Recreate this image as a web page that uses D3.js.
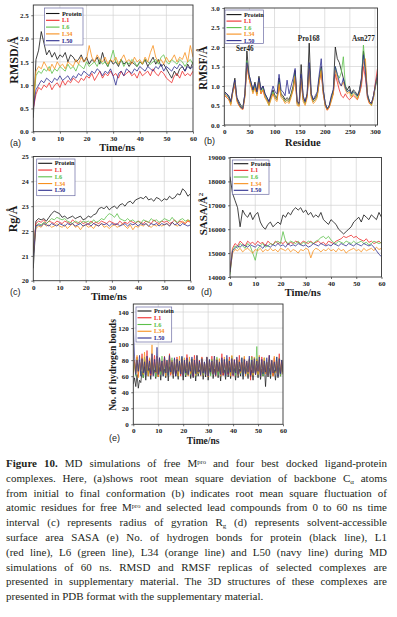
<!DOCTYPE html>
<html lang="en">
<head>
<meta charset="UTF-8">
<title>MD simulations</title>
<script src="https://d3js.org/d3.v7.min.js"></script>
<style>
  body { margin: 0; background: #fff; }
  svg { display: block; }
  .tick text { font-family: "Liberation Serif", serif; font-weight: bold; font-size: 7px; fill: #222; }
  .axttl { font-family: "Liberation Serif", serif; font-weight: bold; fill: #1a1a1a; }
  .plab { font-family: "Liberation Sans", Arial, sans-serif; font-size: 9px; fill: #222; }
  .leg text { font-family: "Liberation Serif", serif; font-weight: bold; font-size: 6.3px; }
  .note { font-family: "Liberation Serif", serif; font-weight: bold; font-size: 7.2px; fill: #222; }
  .caption { font-family: "Liberation Serif", serif; font-size: 11px; fill: #231f20; }
</style>
</head>
<body>
<script>
const seriesNames = ["Protein", "L1", "L6", "L34", "L50"];
const colors = ["#141414", "#ee2a2a", "#5cc04a", "#f7901e", "#2e2f8f"];

const timeNs = d3.range(0, 61);          // 0..60 ns, 1 ns step
const timeHb = d3.range(0, 60.5, 0.5);   // 0..60 ns, 0.5 ns step
const residues = d3.range(1, 306, 4);    // residue numbers 1..305

// (a) RMSD, Å
const rmsdProtein = [0.3,
  1.55,1.75,2.15,1.9,1.65,1.75,1.6,1.7,1.55,1.65,
  1.6,1.7,1.5,1.65,1.6,1.5,1.55,1.65,1.5,1.6,
  1.45,1.55,1.5,1.6,1.45,1.7,1.5,1.4,1.55,1.45,
  1.5,1.4,1.55,1.45,1.5,1.4,1.5,1.45,1.4,1.5,
  1.45,1.55,1.4,1.5,1.6,1.45,1.55,1.4,1.45,1.35,
  1.25,1.15,1.3,1.2,1.35,1.4,1.3,1.45,1.35,1.5];
const rmsdL1 = [0.5,
  0.8,0.95,0.9,1.0,0.95,1.05,0.9,1.0,1.05,0.95,
  1.1,1.0,1.1,1.05,1.15,1.1,1.05,1.15,1.1,1.2,
  1.15,1.25,1.1,1.2,1.3,1.15,1.25,1.2,1.3,1.2,
  1.25,1.15,1.3,1.2,1.25,1.3,1.2,1.25,1.15,1.3,
  1.2,1.25,1.3,1.2,1.35,1.25,1.2,1.3,1.25,1.15,
  1.1,1.05,1.2,1.25,1.15,1.3,1.2,1.25,1.2,1.3];
const rmsdL6 = [0.6,
  1.2,1.3,1.25,1.35,1.3,1.4,1.25,1.35,1.3,1.4,
  1.35,1.3,1.45,1.35,1.4,1.3,1.45,1.4,1.35,1.5,
  1.4,1.45,1.5,1.4,1.55,1.45,1.5,1.4,1.55,1.75,
  1.5,1.45,1.55,1.4,1.5,1.45,1.55,1.5,1.4,1.5,
  1.45,1.55,1.5,1.45,1.5,1.55,1.45,1.6,1.65,1.5,
  1.45,1.55,1.5,1.45,1.55,1.5,1.4,1.5,1.55,1.45];
const rmsdL34 = [0.6,
  1.3,1.4,1.35,1.5,1.4,1.3,1.45,1.35,1.5,1.4,
  1.45,1.35,1.5,1.45,1.4,1.55,1.45,1.6,1.5,1.55,
  1.85,1.6,1.5,1.65,1.55,1.5,1.6,1.45,1.55,1.5,
  1.6,1.45,1.55,1.65,1.5,1.55,1.45,1.6,1.5,1.55,
  1.45,1.6,1.5,1.7,1.85,1.6,1.5,1.55,1.45,1.6,
  1.5,1.55,1.65,1.5,1.6,1.55,1.7,1.5,1.85,1.6];
const rmsdL50 = [0.5,
  0.9,1.0,1.1,1.05,1.15,1.1,1.05,1.15,1.1,1.2,
  1.1,1.15,1.2,1.1,1.2,1.15,1.25,1.2,1.3,1.25,
  1.2,1.3,1.25,1.35,1.3,1.2,1.3,1.25,1.35,1.2,
  1.0,1.25,1.3,1.2,1.35,1.3,1.25,1.35,1.3,1.4,
  1.35,1.3,1.4,1.35,1.3,1.4,1.35,1.45,1.3,1.4,
  1.35,1.3,1.4,1.35,1.45,1.4,1.3,1.4,1.35,1.4];

// (b) RMSF, Å
const rmsfProtein = [
  0.85,0.8,0.75,0.6,0.9,1.2,0.7,0.6,0.5,0.45,
  0.8,1.9,1.3,1.1,0.9,1.1,0.85,1.25,0.9,1.0,
  0.8,0.7,0.6,0.75,0.9,0.75,0.7,1.2,0.8,0.75,
  0.65,0.7,0.65,0.8,1.0,1.4,0.6,0.55,1.55,0.7,
  0.6,0.8,2.1,0.8,0.65,0.7,0.8,1.2,1.5,0.9,
  0.55,0.4,0.5,0.7,0.9,2.0,1.7,1.6,1.4,1.2,
  1.0,0.9,1.0,0.8,0.9,0.85,0.75,0.9,1.2,1.9,
  1.5,0.8,0.6,0.55,0.75,1.0,1.2];
const rmsfL1 = [
  0.75,0.7,0.65,0.55,0.85,1.0,0.65,0.5,0.45,0.4,
  0.75,1.5,1.2,1.0,0.85,0.95,0.8,1.1,0.8,0.9,
  0.7,0.65,0.55,0.7,0.8,0.7,0.65,1.0,0.75,0.7,
  0.6,0.65,0.6,0.75,0.9,1.2,0.55,0.5,1.1,0.65,
  0.55,0.75,1.4,0.75,0.6,0.65,0.75,1.1,1.35,0.8,
  0.5,0.38,0.45,0.65,0.8,1.3,1.1,0.9,0.75,0.7,
  0.8,0.7,0.65,0.7,0.75,0.7,0.65,0.8,1.0,1.5,
  1.2,0.7,0.55,0.55,0.7,1.1,1.45];
const rmsfL6 = [
  0.8,0.75,0.7,0.55,0.85,1.1,0.65,0.55,0.45,0.45,
  0.75,1.65,1.25,1.05,0.85,1.0,0.8,1.15,0.85,0.95,
  0.75,0.65,0.5,0.7,0.85,0.7,0.65,1.1,0.75,0.7,
  0.6,0.65,0.6,0.75,0.95,1.3,0.55,0.5,1.2,0.65,
  0.55,0.75,1.5,0.75,0.6,0.65,0.75,1.15,1.45,0.85,
  0.5,0.42,0.48,0.65,0.85,1.5,1.3,1.2,1.35,1.75,
  1.0,0.85,0.9,0.75,0.85,0.8,0.7,0.85,1.1,2.05,
  1.4,0.75,0.6,0.5,0.7,1.0,1.25];
const rmsfL34 = [
  0.8,0.7,0.65,0.5,0.85,1.1,0.6,0.5,0.42,0.4,
  0.7,1.55,1.2,1.0,0.8,0.95,0.75,1.1,0.8,0.9,
  0.7,0.6,0.5,0.65,0.8,0.65,0.6,1.05,0.7,0.65,
  0.55,0.6,0.55,0.7,0.9,1.25,0.5,0.48,1.2,0.6,
  0.5,0.7,1.45,0.7,0.55,0.6,0.7,1.1,1.4,0.8,
  0.48,0.38,0.45,0.6,0.8,1.4,1.2,1.05,1.0,1.1,
  0.9,0.8,0.85,0.7,0.8,0.75,0.65,0.8,1.1,1.6,
  1.7,0.7,0.55,0.5,0.7,1.05,1.3];
const rmsfL50 = [
  0.8,0.8,0.7,0.6,0.9,1.15,0.7,0.55,0.45,0.42,
  0.8,1.6,1.3,1.1,0.9,1.05,0.85,1.2,0.9,1.0,
  0.8,0.7,0.6,0.8,1.0,0.85,0.8,1.3,0.9,0.85,
  0.75,1.15,0.8,1.0,1.2,1.45,0.6,0.55,1.3,0.75,
  0.6,0.8,1.6,0.8,0.65,0.75,0.85,1.3,1.7,0.9,
  0.55,0.42,0.5,0.75,0.9,1.5,1.3,1.1,1.0,1.2,
  0.95,0.85,0.9,0.8,0.85,0.8,0.75,0.85,1.15,1.8,
  1.35,0.75,0.6,0.55,0.75,1.05,1.3];

// (c) radius of gyration, Å
const rgProtein = [20.5,
  22.4,22.5,22.45,22.5,22.4,22.55,22.7,22.8,22.75,22.7,
  22.55,22.6,22.5,22.55,22.6,22.5,22.55,22.6,22.45,22.5,
  22.6,22.55,22.65,22.7,22.9,22.95,22.9,23.0,22.85,22.95,
  23.0,22.9,23.05,23.1,23.0,23.15,23.2,23.1,23.25,23.3,
  23.35,23.3,23.4,23.25,23.3,23.2,23.35,23.3,23.2,23.3,
  23.25,23.4,23.3,23.35,23.5,23.45,23.7,23.6,23.4,23.5];
const rgL1 = [21.3,
  22.3,22.4,22.35,22.45,22.3,22.4,22.35,22.3,22.4,22.35,
  22.3,22.4,22.35,22.3,22.45,22.35,22.3,22.4,22.3,22.35,
  22.25,22.4,22.3,22.35,22.3,22.4,22.35,22.3,22.4,22.35,
  22.3,22.25,22.4,22.3,22.35,22.3,22.4,22.35,22.3,22.4,
  22.35,22.3,22.4,22.35,22.3,22.45,22.35,22.3,22.4,22.35,
  22.4,22.3,22.35,22.45,22.3,22.4,22.35,22.3,22.4,22.35];
const rgL6 = [21.2,
  22.2,22.3,22.25,22.35,22.3,22.4,22.5,22.45,22.55,22.5,
  22.45,22.5,22.4,22.35,22.3,22.4,22.35,22.3,22.4,22.35,
  22.4,22.3,22.45,22.35,22.4,22.5,22.45,22.6,22.7,22.65,
  22.55,22.7,22.5,22.45,22.4,22.5,22.4,22.45,22.35,22.4,
  22.3,22.45,22.4,22.35,22.5,22.4,22.45,22.35,22.4,22.5,
  22.45,22.4,22.55,22.4,22.35,22.45,22.5,22.4,22.45,22.4];
const rgL34 = [21.1,
  22.1,22.2,22.15,22.3,22.2,22.25,22.15,22.2,22.3,22.2,
  22.15,22.25,22.1,22.2,22.3,22.15,22.2,22.05,22.2,22.25,
  22.15,22.2,22.1,22.25,22.2,22.3,22.15,22.2,22.1,22.2,
  22.25,22.15,22.2,22.3,22.2,22.1,22.25,22.05,22.2,22.15,
  22.25,22.2,22.3,22.2,22.15,22.25,22.2,22.3,22.2,22.25,
  22.3,22.2,22.35,22.25,22.2,22.3,22.4,22.3,22.45,22.35];
const rgL50 = [21.0,
  22.2,22.25,22.2,22.3,22.25,22.2,22.3,22.25,22.2,22.3,
  22.25,22.2,22.3,22.25,22.3,22.2,22.25,22.3,22.2,22.25,
  22.3,22.2,22.3,22.25,22.2,22.3,22.25,22.3,22.2,22.3,
  22.25,22.3,22.2,22.25,22.3,22.2,22.3,22.25,22.3,22.2,
  22.3,22.25,22.3,22.2,22.3,22.25,22.3,22.2,22.3,22.25,
  22.3,22.2,22.35,22.25,22.3,22.2,22.3,22.25,22.2,22.25];

// (d) SASA, Å²
const sasaProtein = [18200,
  17500,17200,16900,16100,16800,16600,16500,16700,16400,16600,
  16700,16300,16100,16000,16200,16300,16100,16200,16300,16200,
  16600,16500,16700,16600,16800,16900,16800,16900,16700,16800,
  16600,16700,16500,16600,16500,16700,16400,16300,16200,16400,
  16300,16200,16000,15900,15800,15900,16000,16100,16300,16400,
  16500,16300,16600,16500,16400,16600,16500,16400,16700,16500];
const sasaL1 = [14300,
  15200,15400,15300,15500,15400,15300,15500,15400,15450,15350,
  15500,15400,15450,15300,15500,15400,15350,15500,15400,15450,
  15400,15500,15350,15450,15400,15500,15450,15400,15500,15450,
  15400,15500,15400,15450,15500,15400,15450,15350,15500,15450,
  15400,15500,15550,15600,15700,15650,15700,15750,15650,15700,
  15600,15550,15500,15600,15450,15500,15400,15450,15500,15400];
const sasaL6 = [14100,
  15100,15300,15200,15400,15300,15200,15400,15300,15000,14700,
  15200,15300,15400,15250,15300,15400,15350,15450,15500,15400,
  15900,15500,15400,15500,15450,15400,15500,15350,15450,15400,
  15500,15450,15400,15500,15550,15650,15700,15600,15700,15550,
  15450,15400,15500,15450,15400,15500,15450,15400,15500,15400,
  15450,15500,15400,15450,15350,15400,15500,15450,15400,15450];
const sasaL34 = [14200,
  15000,15150,15100,15200,15050,15150,15200,15100,15000,15150,
  15100,15200,15050,15150,15100,15200,15100,15150,15050,15200,
  15150,15100,15200,15050,15150,15100,15000,15150,15100,15200,
  15150,14800,15100,15200,15150,15050,15150,15100,15200,15100,
  15150,15050,15200,15100,15150,15000,15100,15150,15200,15100,
  15150,15050,15200,15100,15150,15200,15100,15250,15150,15200];
const sasaL50 = [14200,
  15100,15200,15300,15250,15350,15300,15250,15350,15300,15250,
  15350,15300,15200,15350,15300,15250,15350,15300,15400,15300,
  15350,15250,15400,15300,15350,15300,15400,15350,15300,15350,
  15250,15300,15400,15350,15300,15400,15350,15300,15350,15300,
  15400,15350,15300,15400,15350,15300,15400,15350,15300,15400,
  15350,15300,15400,15350,15300,15350,15250,15100,14950,14850];

// (e) number of hydrogen bonds
const hbProtein = [
  50,58,47,62,45,55,52,66,58,72,55,74,60,70,56,76,62,68,57,73,
  59,71,55,75,61,69,58,77,54,72,63,70,57,74,60,68,56,78,62,71,
  55,73,59,69,61,75,57,70,58,76,54,72,60,68,63,74,56,71,59,77,
  55,70,62,73,57,69,60,75,58,72,54,74,61,68,56,76,59,71,57,73,
  62,70,55,75,58,69,60,74,56,72,61,70,57,76,59,68,55,73,62,71,
  58,75,56,69,60,74,47,72,59,70,57,76,61,68,55,73,58,71,60,74,62];
const hbL1 = [
  62,78,66,84,60,80,68,88,63,79,70,92,65,81,61,77,69,86,64,78,
  60,83,67,79,62,85,70,76,64,88,61,80,66,78,63,84,68,75,60,82,
  65,79,62,87,69,77,64,81,60,86,66,78,63,80,68,84,61,77,65,83,
  62,79,67,85,63,78,60,82,66,76,64,88,61,80,69,78,62,84,65,77,
  60,81,67,79,63,86,65,78,61,83,68,77,64,80,55,85,66,79,62,82,
  65,78,60,84,67,80,63,77,69,86,62,79,60,83,66,78,64,88,61,80,70];
const hbL6 = [
  64,76,60,82,66,78,62,80,58,84,65,77,61,79,67,83,63,76,59,81,
  66,78,62,85,60,77,64,80,61,79,65,83,62,76,67,81,60,78,63,84,
  65,77,61,80,66,79,62,82,64,76,60,85,63,78,67,80,61,77,65,83,
  62,79,60,81,66,77,64,84,61,78,63,80,67,76,60,82,65,79,62,85,
  64,77,61,80,66,78,63,83,60,79,65,76,62,81,67,84,61,78,64,97,
  62,80,66,77,60,83,65,78,63,81,61,79,67,76,64,84,62,78,60,80,66];
const hbL34 = [
  60,80,64,86,58,78,66,84,62,90,65,79,60,83,67,99,61,78,64,85,
  59,81,66,77,62,84,60,79,65,86,63,78,61,82,67,80,60,85,64,77,
  62,83,66,79,60,84,63,78,65,81,61,86,64,79,60,83,66,77,62,84,
  59,80,65,78,63,85,61,79,66,82,60,77,64,84,62,79,67,81,60,86,
  63,78,65,83,61,80,64,77,66,85,60,79,63,82,65,78,61,84,64,80,
  62,86,60,79,65,83,63,78,61,84,66,80,60,85,64,79,62,83,65,78,63];
const hbL50 = [
  120,84,62,80,66,86,60,82,64,78,61,85,67,79,63,88,60,81,65,96,
  62,83,66,79,60,84,64,80,61,86,65,78,62,83,60,81,66,79,63,85,
  61,80,64,83,62,78,66,84,60,80,63,86,65,79,61,82,64,78,62,84,
  60,81,65,79,63,85,61,80,66,78,62,83,64,81,60,86,63,79,65,82,
  61,80,64,84,62,78,66,83,60,81,63,79,65,85,61,80,64,82,62,79,
  66,84,60,81,63,79,65,83,61,86,62,80,64,78,66,84,60,82,63,80,65];

// peak labels in (b): text, residue for placement, RMSF height
const rmsfNotes = [["Ser46", 41, 1.92], ["Pro168", 168, 2.1], ["Asn277", 277, 2.1]];

const captionLines = [
  [{t: "Figure 10.", b: true}, {t: " MD simulations of free M"}, {t: "pro", sup: true}, {t: " and four best docked ligand-protein"}],
  [{t: "complexes. Here, (a)shows root mean square deviation of backbone C"}, {t: "α", sub: true}, {t: " atoms"}],
  [{t: "from initial to final conformation (b) indicates root mean square fluctuation of"}],
  [{t: "atomic residues for free M"}, {t: "pro", sup: true}, {t: " and selected lead compounds from 0 to 60 ns time"}],
  [{t: "interval (c) represents radius of gyration R"}, {t: "g", sub: true}, {t: " (d) represents solvent-accessible"}],
  [{t: "surface area SASA (e) No. of hydrogen bonds for protein (black line), L1"}],
  [{t: "(red line), L6 (green line), L34 (orange line) and L50 (navy line) during MD"}],
  [{t: "simulations of 60 ns. RMSD and RMSF replicas of selected complexes are"}],
  [{t: "presented in supplementary material. The 3D structures of these complexes are"}],
  [{t: "presented in PDB format with the supplementary material."}]
];

const svg = d3.select("body").append("svg").attr("width", 397).attr("height", 617);

function drawPanel(p) {
  const x = d3.scaleLinear().domain(p.xDomain).range(p.xRange);
  const y = d3.scaleLinear().domain(p.yDomain).range(p.yRange);
  const [xl, xr] = p.xRange, [yb, yt] = p.yRange;
  const g = svg.append("g");

  svg.append("clipPath").attr("id", "clip-" + p.name)
    .append("rect").attr("x", xl).attr("y", yt).attr("width", xr - xl).attr("height", yb - yt);

  // grid
  g.append("g").selectAll("line").data(p.xTicks.filter(v => x(v) > xl + 1 && x(v) < xr - 1)).join("line")
    .attr("x1", d => x(d)).attr("x2", d => x(d)).attr("y1", yt).attr("y2", yb)
    .attr("stroke", "#d2d2d2").attr("stroke-width", 0.7);
  g.append("g").selectAll("line").data(p.yTicks.filter(v => y(v) < yb - 1 && y(v) > yt + 1)).join("line")
    .attr("x1", xl).attr("x2", xr).attr("y1", d => y(d)).attr("y2", d => y(d))
    .attr("stroke", "#d2d2d2").attr("stroke-width", 0.7);

  const line = d3.line().x((d, i) => x(p.xs[i])).y(d => y(d));
  g.append("g").attr("clip-path", `url(#clip-${p.name})`)
    .selectAll("path").data(p.series).join("path")
    .attr("d", line).attr("fill", "none")
    .attr("stroke", (d, i) => colors[i]).attr("stroke-width", p.lw || 0.8)
    .attr("stroke-linejoin", "round");

  const ax = g.append("g").attr("transform", `translate(0,${yb})`)
    .call(d3.axisBottom(x).tickValues(p.xTicks).tickSize(2).tickPadding(2).tickFormat(d3.format("d")));
  const ay = g.append("g").attr("transform", `translate(${xl},0)`)
    .call(d3.axisLeft(y).tickValues(p.yTicks).tickSize(2).tickPadding(2.5).tickFormat(p.yFormat));
  [ax, ay].forEach(a => {
    a.select(".domain").remove();
    a.selectAll(".tick line").attr("stroke", "#333").attr("stroke-width", 0.7);
  });

  g.append("rect").attr("x", xl).attr("y", yt).attr("width", xr - xl).attr("height", yb - yt)
    .attr("fill", "none").attr("stroke", "#333").attr("stroke-width", 0.9);

  // titles
  g.append("text").attr("class", "axttl").attr("font-size", p.fs || 10.5)
    .attr("x", (xl + xr) / 2 + (p.xtDx || 0)).attr("y", p.xtY).attr("text-anchor", "middle").text(p.xTitle);
  const yt2 = g.append("text").attr("class", "axttl").attr("font-size", p.yfs || 11)
    .attr("transform", `translate(${p.ytX},${p.ytY}) rotate(-90)`).attr("text-anchor", "middle");
  p.yTitle.forEach(s => yt2.append("tspan").attr("baseline-shift", s.sup ? "super" : null)
    .attr("font-size", s.sup ? 7 : null).text(s.t));
  g.append("text").attr("class", "plab").attr("x", p.lab[0]).attr("y", p.lab[1]).text(p.label);

  // legend
  const L = p.legend;
  const lg = g.append("g").attr("class", "leg");
  lg.append("rect").attr("x", L.x).attr("y", L.y).attr("width", L.w).attr("height", L.h)
    .attr("fill", "#fff").attr("stroke", "#6c6ca4").attr("stroke-width", 0.7);
  seriesNames.forEach((name, i) => {
    const yy = L.y + L.first + i * L.step;
    lg.append("line").attr("x1", L.x + 1.5).attr("x2", L.x + 1.5 + L.len).attr("y1", yy).attr("y2", yy)
      .attr("stroke", colors[i]).attr("stroke-width", 1.1);
    lg.append("text").attr("x", L.x + L.len + 4).attr("y", yy + 2.1).attr("fill", colors[i]).text(name);
  });
  return {x, y, g};
}

const fmt1 = d3.format(".1f"), fmtD = d3.format("d");

drawPanel({
  name: "a", xs: timeNs, series: [rmsdProtein, rmsdL1, rmsdL6, rmsdL34, rmsdL50],
  xDomain: [0, 60], xRange: [33.3, 193], yDomain: [0, 2.72], yRange: [131.7, 5],
  xTicks: [0, 10, 20, 30, 40, 50, 60], yTicks: [0, 0.5, 1, 1.5, 2, 2.5], yFormat: fmt1,
  xTitle: "Time/ns", xtY: 150.5, xtDx: 4, fs: 10.5, yTitle: [{t: "RMSD/Å"}], ytX: 18, ytY: 60, yfs: 12,
  label: "(a)", lab: [10, 146],
  legend: {x: 44.5, y: 8, w: 38.5, h: 37, first: 5.5, step: 6.8, len: 13.5}
});

const pb = drawPanel({
  name: "b", xs: residues, series: [rmsfProtein, rmsfL1, rmsfL6, rmsfL34, rmsfL50],
  xDomain: [0, 305], xRange: [224.3, 377.5], yDomain: [0, 3], yRange: [125, 8],
  xTicks: [0, 50, 100, 150, 200, 250, 300], yTicks: [0, 0.5, 1, 1.5, 2, 2.5, 3], yFormat: fmt1,
  xTitle: "Residue", xtY: 145.5, xtDx: 2, yTitle: [{t: "RMSF/Å"}], ytX: 207, ytY: 68, yfs: 11.5,
  label: "(b)", lab: [204, 144],
  legend: {x: 225, y: 10, w: 38.5, h: 33.5, first: 4.6, step: 6.5, len: 15}
});
pb.g.selectAll("text.note").data(rmsfNotes).join("text").attr("class", "note")
  .attr("x", d => pb.x(d[1]))
  .attr("y", d => d[0] === "Ser46" ? 50.5 : pb.y(d[2]) - 2)
  .attr("text-anchor", "middle").text(d => d[0]);

drawPanel({
  name: "c", xs: timeNs, series: [rgProtein, rgL1, rgL6, rgL34, rgL50],
  xDomain: [0, 60], xRange: [33.3, 190.5], yDomain: [20, 25], yRange: [280.7, 156.5],
  xTicks: [0, 10, 20, 30, 40, 50, 60], yTicks: [20, 21, 22, 23, 24, 25], yFormat: fmtD,
  xTitle: "Time/ns", xtY: 299.5, xtDx: -3, yTitle: [{t: "Rg/Å"}], ytX: 17, ytY: 219, yfs: 12,
  label: "(c)", lab: [10, 295],
  legend: {x: 36.7, y: 159, w: 38.3, h: 36.7, first: 4.3, step: 6.75, len: 14}
});

drawPanel({
  name: "d", xs: timeNs, series: [sasaProtein, sasaL1, sasaL6, sasaL34, sasaL50],
  xDomain: [0, 60], xRange: [230, 381.5], yDomain: [14000, 19000], yRange: [277, 157.5],
  xTicks: [0, 10, 20, 30, 40, 50, 60], yTicks: [14000, 15000, 16000, 17000, 18000, 19000], yFormat: fmtD,
  xTitle: "Time/ns", xtY: 296, xtDx: -3, yTitle: [{t: "SASA/Å"}, {t: "2", sup: true}], ytX: 207, ytY: 214, yfs: 11,
  label: "(d)", lab: [201, 295],
  legend: {x: 232.3, y: 160, w: 36.7, h: 34.3, first: 3.7, step: 6.65, len: 14.5}
});

drawPanel({
  name: "e", xs: timeHb, series: [hbProtein, hbL1, hbL6, hbL34, hbL50], lw: 0.7,
  xDomain: [0, 60], xRange: [133.3, 283], yDomain: [0, 150], yRange: [424.3, 304],
  xTicks: [0, 10, 20, 30, 40, 50, 60], yTicks: [0, 20, 40, 60, 80, 100, 120, 140], yFormat: fmtD,
  xTitle: "Time/ns", xtY: 443.5, xtDx: -5, fs: 9.5, yTitle: [{t: "No. of hydrogen bonds"}], ytX: 116, ytY: 365, yfs: 9.5,
  label: "(e)", lab: [109, 441],
  legend: {x: 136, y: 307, w: 35.7, h: 35, first: 4, step: 6.75, len: 14}
});

// caption, justified with word spacing
const capX = 6, capW = 381, capY0 = 467, capStep = 14.8;
captionLines.forEach((segs, i) => {
  const t = svg.append("text").attr("class", "caption").attr("x", capX).attr("y", capY0 + i * capStep);
  segs.forEach(s => {
    const ts = t.append("tspan").text(s.t);
    if (s.b) ts.attr("font-weight", "bold");
    if (s.sup) ts.attr("baseline-shift", "3.5").attr("font-size", 6.5);
    if (s.sub) ts.attr("baseline-shift", "-2").attr("font-size", 7);
  });
  if (i < captionLines.length - 1) {
    const natural = t.node().getComputedTextLength();
    const spaces = segs.map(s => s.t).join("").split(" ").length - 1;
    if (spaces > 0) t.style("word-spacing", ((capW - natural) / spaces) + "px");
  }
});
</script>
</body>
</html>
